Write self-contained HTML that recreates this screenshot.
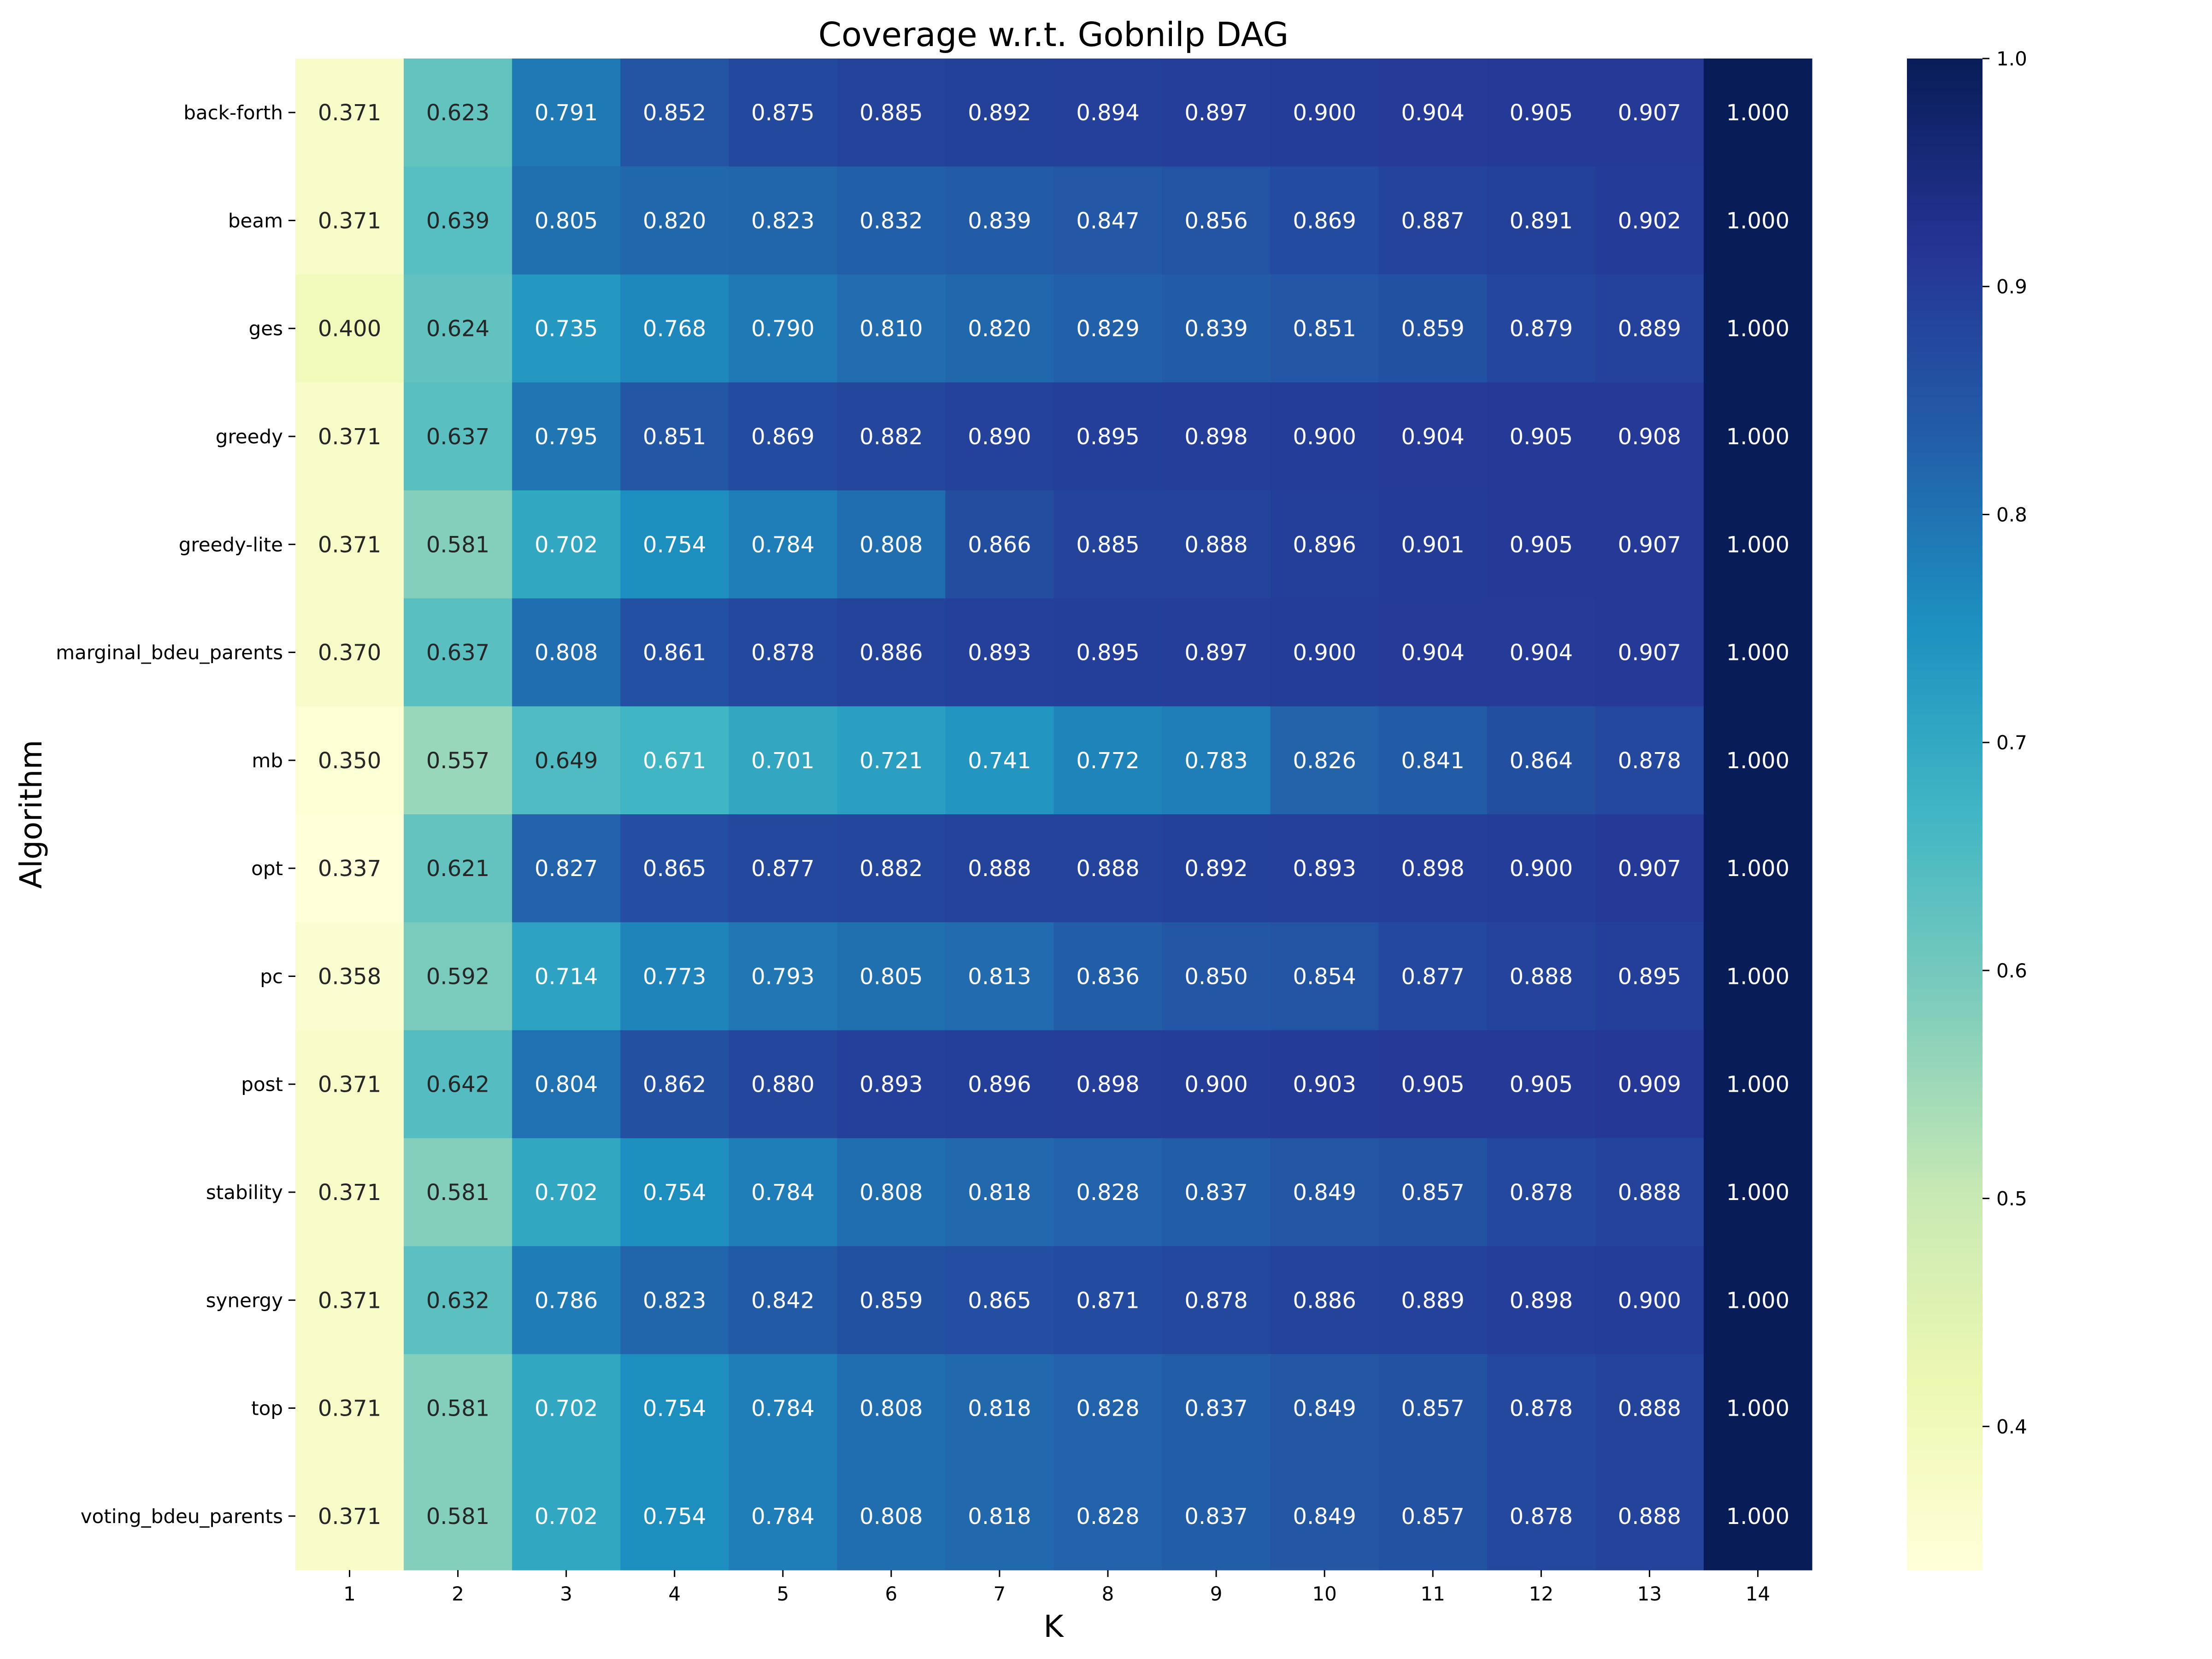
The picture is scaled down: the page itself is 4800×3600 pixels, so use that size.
<!DOCTYPE html>
<html><head><meta charset="utf-8"><style>html,body{margin:0;padding:0;background:#fff}svg{display:block}text{font-family:"DejaVu Sans","Liberation Sans",sans-serif}</style></head>
<body>
<svg id="chart" xmlns="http://www.w3.org/2000/svg" width="4800" height="3600" viewBox="0 0 4800 3600">
<rect width="4800" height="3600" fill="#fff"/>
<text x="2286" y="100" font-size="72" text-anchor="middle">Coverage w.r.t. Gobnilp DAG</text>
<text x="2286" y="3552" font-size="66" text-anchor="middle">K</text>
<text x="0" y="0" font-size="66" text-anchor="middle" transform="translate(90,1767) rotate(-90)">Algorithm</text>
<g id="cells"></g><g id="cbar"></g>
</svg>
<script>
const algorithms=["back-forth","beam","ges","greedy","greedy-lite","marginal_bdeu_parents","mb","opt","pc","post","stability","synergy","top","voting_bdeu_parents"];
const kValues=[1,2,3,4,5,6,7,8,9,10,11,12,13,14];
const rowBackForth=[0.371,0.623,0.791,0.852,0.875,0.885,0.892,0.894,0.897,0.900,0.904,0.905,0.907,1.000];
const rowBeam=[0.371,0.639,0.805,0.820,0.823,0.832,0.839,0.847,0.856,0.869,0.887,0.891,0.902,1.000];
const rowGes=[0.400,0.624,0.735,0.768,0.790,0.810,0.820,0.829,0.839,0.851,0.859,0.879,0.889,1.000];
const rowGreedy=[0.371,0.637,0.795,0.851,0.869,0.882,0.890,0.895,0.898,0.900,0.904,0.905,0.908,1.000];
const rowGreedyLite=[0.371,0.581,0.702,0.754,0.784,0.808,0.866,0.885,0.888,0.896,0.901,0.905,0.907,1.000];
const rowMarginal=[0.370,0.637,0.808,0.861,0.878,0.886,0.893,0.895,0.897,0.900,0.904,0.904,0.907,1.000];
const rowMb=[0.350,0.557,0.649,0.671,0.701,0.721,0.741,0.772,0.783,0.826,0.841,0.864,0.878,1.000];
const rowOpt=[0.337,0.621,0.827,0.865,0.877,0.882,0.888,0.888,0.892,0.893,0.898,0.900,0.907,1.000];
const rowPc=[0.358,0.592,0.714,0.773,0.793,0.805,0.813,0.836,0.850,0.854,0.877,0.888,0.895,1.000];
const rowPost=[0.371,0.642,0.804,0.862,0.880,0.893,0.896,0.898,0.900,0.903,0.905,0.905,0.909,1.000];
const rowStability=[0.371,0.581,0.702,0.754,0.784,0.808,0.818,0.828,0.837,0.849,0.857,0.878,0.888,1.000];
const rowSynergy=[0.371,0.632,0.786,0.823,0.842,0.859,0.865,0.871,0.878,0.886,0.889,0.898,0.900,1.000];
const rowTop=[0.371,0.581,0.702,0.754,0.784,0.808,0.818,0.828,0.837,0.849,0.857,0.878,0.888,1.000];
const rowVoting=[0.371,0.581,0.702,0.754,0.784,0.808,0.818,0.828,0.837,0.849,0.857,0.878,0.888,1.000];
const cbarTicks=[0.4,0.5,0.6,0.7,0.8,0.9,1.0];
const cbarTickLabels=["0.4","0.5","0.6","0.7","0.8","0.9","1.0"];
const vmin=0.337, vmax=1.0;

const rows=[rowBackForth,rowBeam,rowGes,rowGreedy,rowGreedyLite,rowMarginal,rowMb,rowOpt,rowPc,rowPost,rowStability,rowSynergy,rowTop,rowVoting];
const NS="http://www.w3.org/2000/svg";
const L=641,R=3932,T=127,B=3407;
const cw=(R-L)/kValues.length, ch=(B-T)/algorithms.length;
const xPos=i=>L+i*cw, yPos=j=>T+j*ch;
const stops=["#ffffd9","#edf8b1","#c7e9b4","#7fcdbb","#41b6c4","#1d91c0","#225ea8","#253494","#081d58"].map(h=>[1,3,5].map(k=>parseInt(h.substr(k,2),16)));
function cmap(v){let t=Math.max(0,Math.min(1,(v-vmin)/(vmax-vmin)))*(stops.length-1);let i=Math.min(stops.length-2,Math.floor(t)),f=t-i;return stops[i].map((c,k)=>Math.round(c+(stops[i+1][k]-c)*f));}
function lum(c){const l=c.map(x=>{x/=255;return x<=0.03928?x/12.92:Math.pow((x+0.055)/1.055,2.4)});return 0.2126*l[0]+0.7152*l[1]+0.0722*l[2];}
function mk(tag,attrs,parent){const e=document.createElementNS(NS,tag);for(const k in attrs)e.setAttribute(k,attrs[k]);parent.appendChild(e);return e;}
const g=document.getElementById('cells');
rows.forEach((row,j)=>{row.forEach((v,i)=>{
  const c=cmap(v);
  const r=mk('rect',{x:xPos(i),y:yPos(j),width:cw+0.6,height:ch+0.6,fill:`rgb(${c})`},g);
  
  
  const t=mk('text',{x:xPos(i)+cw/2,y:yPos(j)+ch/2+17,'font-size':48,'text-anchor':'middle',fill:lum(c)>0.408?'#262626':'#ffffff'},g);
  
  
  t.textContent=v.toFixed(3);
});});
algorithms.forEach((a,j)=>{
  const y=yPos(j)+ch/2;
  const tk=mk('line',{x1:L-15,x2:L,y1:y,y2:y,stroke:'#000','stroke-width':3},g);
  
  
  const t=mk('text',{x:L-27,y:y+15,'font-size':42,'text-anchor':'end'},g);
  
  
  t.textContent=a;
});
kValues.forEach((k,i)=>{
  const x=xPos(i)+cw/2;
  const tk=mk('line',{x1:x,x2:x,y1:B,y2:B+15,stroke:'#000','stroke-width':3},g);
  
  
  const t=mk('text',{x:x,y:B+66,'font-size':42,'text-anchor':'middle'},g);
  
  
  t.textContent=k;
});
const cb=document.getElementById('cbar');
const CL=4138,CR=4302;
const cy=v=>B-(v-vmin)/(vmax-vmin)*(B-T);
const N=300;
for(let n=0;n<N;n++){const v0=vmin+(vmax-vmin)*n/N;const c=cmap(v0+(vmax-vmin)/(2*N));
  const r=mk('rect',{x:CL,y:cy(v0+(vmax-vmin)/N),width:CR-CL,height:(B-T)/N+1,fill:`rgb(${c})`},cb);
  
  
}
cbarTicks.forEach((v,i)=>{
  const y=cy(v);
  const tk=mk('line',{x1:CR,x2:CR+15,y1:y,y2:y,stroke:'#000','stroke-width':3},cb);
  
  
  const t=mk('text',{x:CR+30,y:y+15,'font-size':42},cb);
  
  
  t.textContent=cbarTickLabels[i];
});
</script>
</body></html>
